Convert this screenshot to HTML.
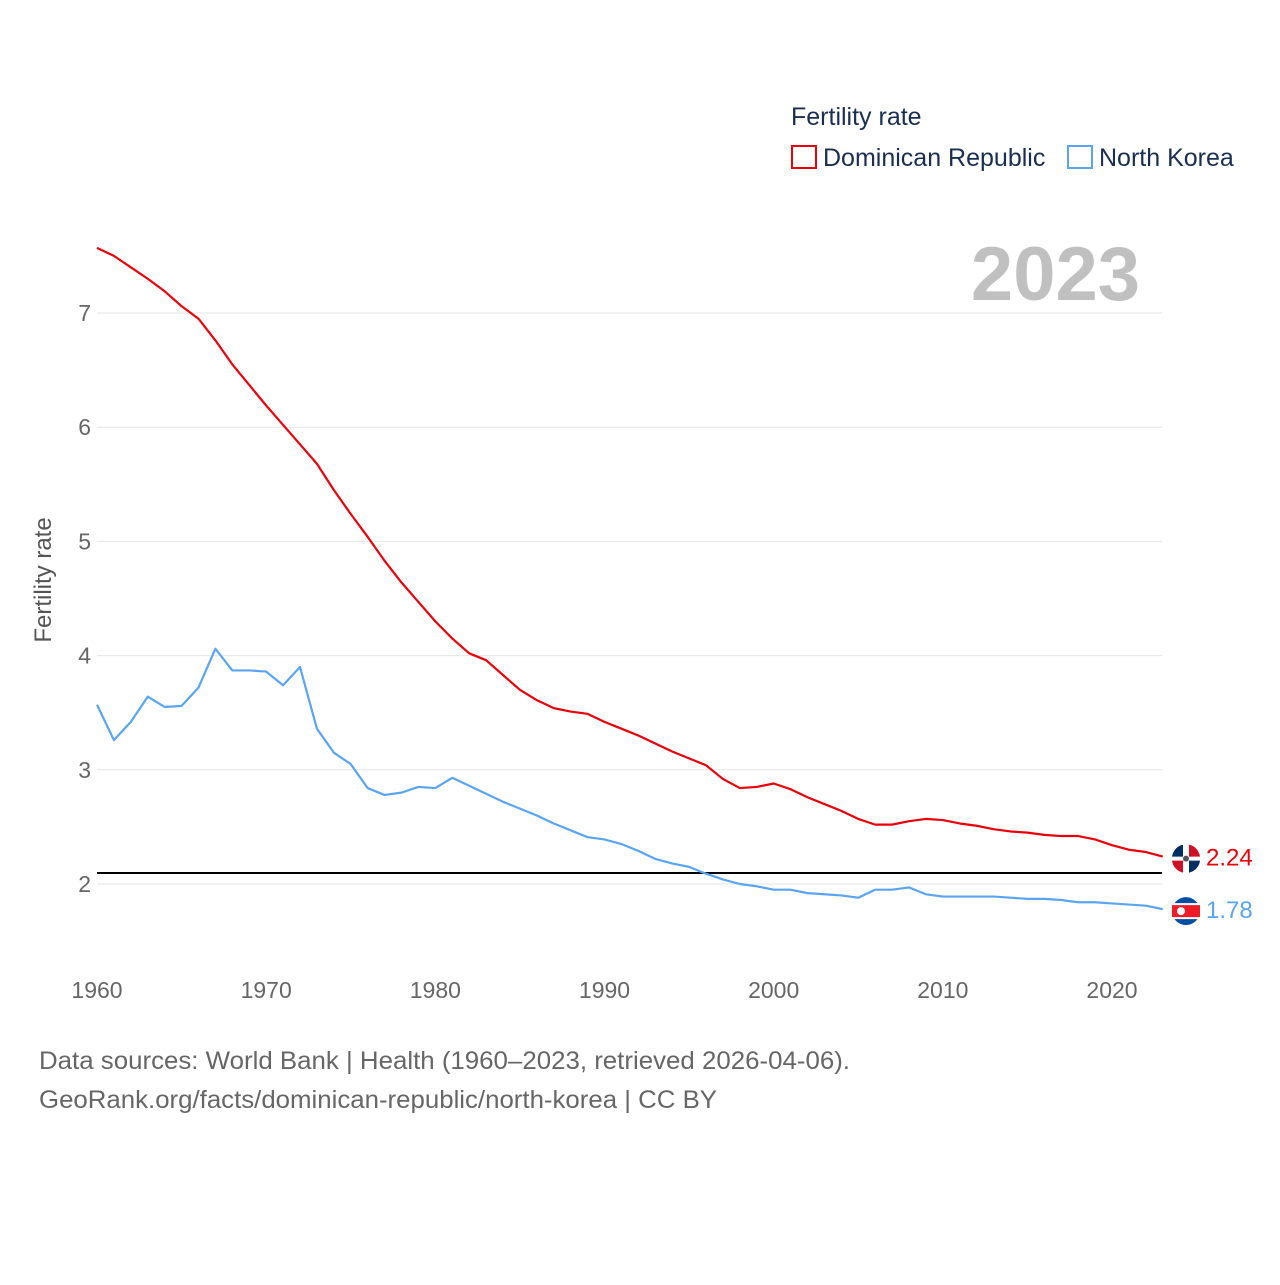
<!DOCTYPE html>
<html><head><meta charset="utf-8"><style>
body{margin:0;background:#fff;font-family:"Liberation Sans",sans-serif}
svg text{font-family:"Liberation Sans",sans-serif}
</style></head><body>
<svg width="1280" height="1280" viewBox="0 0 1280 1280">
<text x="791" y="125" font-size="25" fill="#1a2e4f">Fertility rate</text>
<rect x="792" y="146" width="24" height="22" fill="none" stroke="#e8000b" stroke-width="2"/>
<text x="823" y="166" font-size="25" fill="#1a2e4f">Dominican Republic</text>
<rect x="1068" y="146" width="24" height="22" fill="none" stroke="#5ba4ef" stroke-width="2"/>
<text x="1099" y="166" font-size="25" fill="#1a2e4f">North Korea</text>
<text x="1140" y="300" font-size="76" font-weight="bold" fill="#c0c0c0" text-anchor="end">2023</text>
<text transform="translate(51,580) rotate(-90)" font-size="24" fill="#555" text-anchor="middle">Fertility rate</text>
<g id="grid"></g><g id="xt"></g>
<line x1="97" x2="1162" y1="873" y2="873" stroke="#000" stroke-width="2"/>
<g id="series"></g>
<text x="39" y="1069" font-size="25" fill="#666" textLength="811" lengthAdjust="spacingAndGlyphs">Data sources: World Bank | Health (1960–2023, retrieved 2026-04-06).</text>
<text x="39" y="1108" font-size="25" fill="#666" textLength="678" lengthAdjust="spacingAndGlyphs">GeoRank.org/facts/dominican-republic/north-korea | CC BY</text>
</svg>
<script>
const years=[];for(let y=1960;y<=2023;y++)years.push(y);
const yTicks=[2,3,4,5,6,7];
const xTicks=[1960,1970,1980,1990,2000,2010,2020];
const dominican=[7.57,7.50,7.40,7.30,7.19,7.06,6.95,6.76,6.55,6.37,6.19,6.02,5.85,5.68,5.45,5.24,5.04,4.83,4.64,4.47,4.30,4.15,4.02,3.96,3.83,3.70,3.61,3.54,3.51,3.49,3.42,3.36,3.30,3.23,3.16,3.10,3.04,2.92,2.84,2.85,2.88,2.83,2.76,2.70,2.64,2.57,2.52,2.52,2.55,2.57,2.56,2.53,2.51,2.48,2.46,2.45,2.43,2.42,2.42,2.39,2.34,2.30,2.28,2.24];
const northKorea=[3.57,3.26,3.42,3.64,3.55,3.56,3.72,4.06,3.87,3.87,3.86,3.74,3.90,3.36,3.15,3.05,2.84,2.78,2.80,2.85,2.84,2.93,2.86,2.79,2.72,2.66,2.60,2.53,2.47,2.41,2.39,2.35,2.29,2.22,2.18,2.15,2.09,2.04,2.00,1.98,1.95,1.95,1.92,1.91,1.90,1.88,1.95,1.95,1.97,1.91,1.89,1.89,1.89,1.89,1.88,1.87,1.87,1.86,1.84,1.84,1.83,1.82,1.81,1.78];
const X=y=>97+(y-1960)*(1015/60);
const Y=v=>884-(v-2)*114.2;
const NS='http://www.w3.org/2000/svg';
function mk(t,a,p){const e=document.createElementNS(NS,t);for(const k in a)e.setAttribute(k,a[k]);p.appendChild(e);return e;}
const grid=document.getElementById('grid');
yTicks.forEach(v=>{
 const l=mk('line',{x1:97,x2:1162,y1:Y(v),y2:Y(v),stroke:'#e6e6e6','stroke-width':1},grid);
 
 
 const t=mk('text',{x:91,y:Y(v)+8,'font-size':23,fill:'#666','text-anchor':'end'},grid);t.textContent=v;
 
 
});
const xt=document.getElementById('xt');
xTicks.forEach(v=>{
 const t=mk('text',{x:X(v),y:998,'font-size':23,fill:'#666','text-anchor':'middle'},xt);t.textContent=v;
 
 
});
const s=document.getElementById('series');
function line(d,c,name){
 const p=mk('polyline',{points:d.map((v,i)=>X(years[i])+','+Y(v)).join(' '),fill:'none',stroke:c,'stroke-width':2.2,'stroke-linejoin':'round'},s);
 
 
 const last=d[d.length-1];
 const t=mk('text',{x:1206,y:Y(last)+9,'font-size':24,fill:c},s);t.textContent=last.toFixed(2);
 
 
 return Y(last);
}
const yd=line(dominican,'#e8000b','dominican-republic');
const yk=line(northKorea,'#5ba4ef','north-korea');
let g=mk('g',{},s);


mk('circle',{cx:1186,cy:yd+2,r:14,fill:'#fff'},g);
mk('path',{d:`M1172 ${yd+2} A14 14 0 0 1 1183 ${yd-12} V${yd} H1172Z`,fill:'#002d62'},g);
mk('path',{d:`M1189 ${yd-12} A14 14 0 0 1 1200 ${yd} H1189Z`,fill:'#ce1126'},g);
mk('path',{d:`M1172 ${yd+4} H1183 V${yd+16} A14 14 0 0 1 1172 ${yd+4}Z`,fill:'#ce1126'},g);
mk('path',{d:`M1189 ${yd+4} H1200 A14 14 0 0 1 1189 ${yd+16}Z`,fill:'#002d62'},g);
mk('circle',{cx:1186,cy:yd+2,r:3,fill:'#556'},g);
g=mk('g',{},s);


mk('circle',{cx:1186,cy:yk+2,r:14,fill:'#024fa2'},g);
mk('rect',{x:1172,y:yk-6,width:28,height:16,fill:'#fff'},g);
mk('rect',{x:1172,y:yk-4,width:28,height:12,fill:'#ed1c27'},g);
mk('circle',{cx:1181,cy:yk+2,r:4,fill:'#fff'},g);
</script>
</body></html>
